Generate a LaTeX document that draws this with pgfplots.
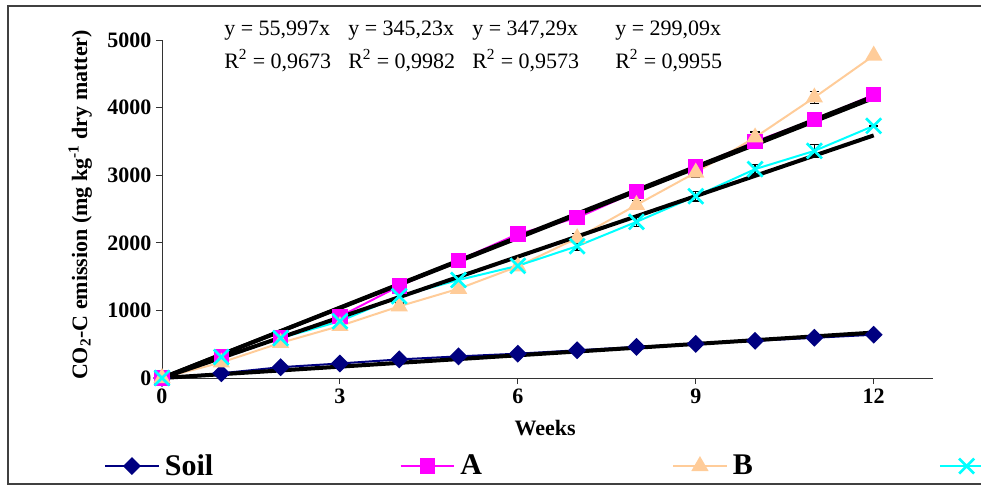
\documentclass[border=0pt]{standalone}
\usepackage{pgfplots}
\pgfplotsset{compat=1.18}
\usepackage{fontspec}
\setmainfont{Liberation Serif}
\definecolor{soilc}{RGB}{0,0,128}
\definecolor{ac}{RGB}{255,0,255}
\definecolor{bc}{RGB}{255,204,153}
\definecolor{cc}{RGB}{0,255,255}
\newcommand{\eqfont}{\fontsize{16.5}{19}\selectfont}
\begin{document}
\begin{tikzpicture}
\begin{scope}
\clip (0,0) rectangle (735.75pt,365.25pt);
% outer frame
\draw[black!75, line width=1pt] (6pt,360.75pt) rectangle (760pt,2.25pt);
\begin{axis}[
  at={(121.5pt,81.75pt)}, anchor=south west,
  scale only axis, width=578.25pt, height=253.5pt,
  xmin=0, xmax=13, ymin=0, ymax=5000,
  axis lines=left,
  axis line style={-, black!80, line width=0.75pt},
  xtick={0,3,6,9,12}, ytick={0,1000,...,5000},
  tick align=outside, major tick length=4.5pt,
  tick style={black!80, line width=0.75pt},
  /pgf/number format/assume math mode=true,
  scaled y ticks=false,
  yticklabel style={/pgf/number format/1000 sep={}},
  ticklabel style={font=\bfseries\eqfont},
  xlabel={Weeks}, xlabel style={font=\bfseries\eqfont, at={(axis description cs:0.497,-0.148)}, anchor=center},
  ylabel={CO\textsubscript{2}-C emission (mg kg\textsuperscript{-1} dry matter)},
  ylabel style={font=\bfseries\eqfont, at={(axis description cs:-0.106,0.512)}, anchor=center, rotate=0},
  clip=false,
  legend columns=4,
  legend style={draw=none, fill=none, at={(axis description cs:-0.0752,-0.2604)}, anchor=west,
    font=\bfseries\fontsize{22.5}{26}\selectfont, inner sep=0pt, nodes={inner sep=0pt},
    /tikz/every odd column/.append style={column sep=4pt},
    /tikz/every even column/.append style={column sep=0pt}},
  legend image code/.code={\draw[mark repeat=2,mark phase=2,#1] plot coordinates {(0pt,0pt) (20pt,0pt) (40pt,0pt)};},
]
\addplot[soilc, line width=1.5pt, mark=square*, mark size=4pt, mark options={rotate=45, solid}] coordinates {
(0,0)(1,70)(2,160)(3,215)(4,275)(5,320)(6,360)(7,410)(8,460)(9,505)(10,550)(11,595)(12,640)};
\addlegendentry{\makebox[176pt][l]{Soil}}
\addplot[ac, line width=1.5pt, mark=square*, mark size=5pt] coordinates {
(0,0)(1,310)(2,600)(3,910)(4,1360)(5,1740)(6,2130)(7,2370)(8,2760)(9,3120)(10,3500)(11,3820)(12,4190)};
\addlegendentry{\makebox[159pt][l]{A}}
\addplot[bc, line width=1.5pt, mark=triangle*, mark size=6pt,
  error bars/.cd, y dir=both, y explicit,
  error bar style={black, line width=1pt},
  error mark options={rotate=90, black, mark size=3.5pt, line width=1pt}] coordinates {
(0,0)+-(0,0) (1,230)+-(0,30) (2,520)+-(0,40) (3,770)+-(0,50) (4,1060)+-(0,50) (5,1320)+-(0,60) (6,1650)+-(0,60) (7,2070)+-(0,70) (8,2560)+-(0,70) (9,3040)+-(0,70) (10,3560)+-(0,80) (11,4150)+-(0,90) (12,4770)+-(0,0)};
\addlegendentry{\makebox[154.5pt][l]{B}}
\addplot[cc, line width=1.5pt, mark=x, mark size=8pt, mark options={line width=2pt},
  error bars/.cd, y dir=both, y explicit,
  error bar style={black, line width=1pt},
  error mark options={rotate=90, black, mark size=3.5pt, line width=1pt}] coordinates {
(0,0)+-(0,0) (1,310)+-(0,30) (2,590)+-(0,40) (3,840)+-(0,50) (4,1210)+-(0,50) (5,1450)+-(0,60) (6,1660)+-(0,60) (7,1950)+-(0,60) (8,2310)+-(0,70) (9,2690)+-(0,70) (10,3090)+-(0,70) (11,3360)+-(0,90) (12,3730)+-(0,0)};
\addlegendentry{C}
% trendlines
\addplot[black, line width=3pt, forget plot] coordinates {(0,0)(12,671.96)};
\addplot[black, line width=3pt, forget plot] coordinates {(0,0)(12,4142.76)};
\addplot[black, line width=3pt, forget plot] coordinates {(0,0)(12,4167.48)};
\addplot[black, line width=3pt, forget plot] coordinates {(0,0)(12,3589.08)};
\end{axis}
% equations
\node[anchor=base west, inner sep=0pt, font=\eqfont] at (168pt,338.25pt) {y = 55,997x};
\node[anchor=base west, inner sep=0pt, font=\eqfont] at (261pt,338.25pt) {y = 345,23x};
\node[anchor=base west, inner sep=0pt, font=\eqfont] at (354pt,338.25pt) {y = 347,29x};
\node[anchor=base west, inner sep=0pt, font=\eqfont] at (461.25pt,338.25pt) {y = 299,09x};
\node[anchor=base west, inner sep=0pt, font=\eqfont] at (168pt,314.25pt) {R\textsuperscript{2} = 0,9673};
\node[anchor=base west, inner sep=0pt, font=\eqfont] at (261pt,314.25pt) {R\textsuperscript{2} = 0,9982};
\node[anchor=base west, inner sep=0pt, font=\eqfont] at (354pt,314.25pt) {R\textsuperscript{2} = 0,9573};
\node[anchor=base west, inner sep=0pt, font=\eqfont] at (461.25pt,314.25pt) {R\textsuperscript{2} = 0,9955};
\end{scope}
\pgfresetboundingbox
\useasboundingbox (0,0) rectangle (735.75pt,365.25pt);
\end{tikzpicture}
\end{document}
